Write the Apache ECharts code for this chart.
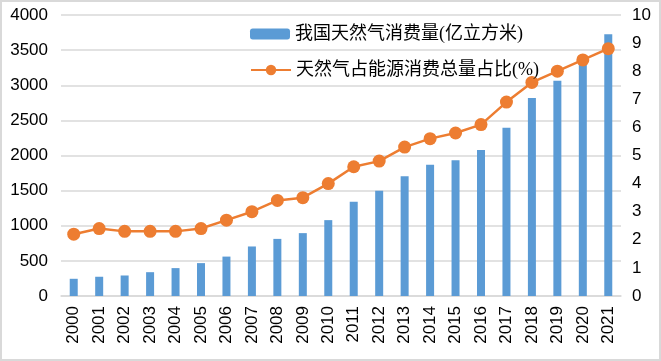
<!DOCTYPE html>
<html><head><meta charset="utf-8">
<script src="https://cdn.jsdelivr.net/npm/echarts@6/dist/echarts.min.js"></script>
<style>html,body{margin:0;padding:0;background:#fff}#c{width:661px;height:361px}</style>
</head><body><div id="c"></div>
<script>
var years = ['2000','2001','2002','2003','2004','2005','2006','2007','2008','2009','2010','2011','2012','2013','2014','2015','2016','2017','2018','2019','2020','2021'];
var gasConsumption = [245,274,292,339,397,468,561,705,813,895,1080,1341,1497,1705,1868,1932,2078,2394,2817,3064,3340,3726];
var gasShare = [2.2,2.4,2.3,2.3,2.3,2.4,2.7,3.0,3.4,3.5,4.0,4.6,4.8,5.3,5.6,5.8,6.1,6.9,7.6,8.0,8.4,8.8];
var barName = '我国天然气消费量(亿立方米)';
var lineName = '天然气占能源消费总量占比(%)';

var chart = echarts.init(document.getElementById('c'), null, {renderer:'canvas'});
var labelFont = {color:'#000', fontSize:17, fontFamily:'"Liberation Sans", Arial, sans-serif'};
var legendText = {color:'#000', fontSize:18, lineHeight:20, fontFamily:'"Liberation Serif", "Noto Sans CJK SC", serif'};
chart.setOption({
  animation:false,
  graphic:[{type:'rect', shape:{x:1,y:1,width:659,height:359}, style:{fill:'none', stroke:'#d9d9d9', lineWidth:2}, silent:true}],
  grid:{left:61, right:40, top:15, bottom:65, containLabel:false},
  legend:[
    {data:[barName], left:245, top:19, itemWidth:40, itemHeight:11, textStyle:legendText, selectedMode:false},
    {data:[lineName], left:245, top:55, itemWidth:40, itemHeight:13, textStyle:legendText, selectedMode:false}
  ],
  xAxis:{type:'category', data:years,
    axisLine:{lineStyle:{color:'#d9d9d9', width:1.5}}, axisTick:{show:false},
    axisLabel:Object.assign({rotate:90, margin:10, interval:0}, labelFont)},
  yAxis:[
    {type:'value', min:0, max:4000, interval:500, axisLine:{show:false}, axisTick:{show:false},
     splitLine:{lineStyle:{color:'#d9d9d9', width:1.5}},
     axisLabel:Object.assign({margin:13, formatter:function(v){return String(v);}}, labelFont)},
    {type:'value', min:0, max:10, interval:1, position:'right', axisLine:{show:false}, axisTick:{show:false},
     splitLine:{show:false}, axisLabel:Object.assign({margin:11}, labelFont)}
  ],
  series:[
    {name:barName, type:'bar', data:gasConsumption, barWidth:8, itemStyle:{color:'#5b9bd5'}, yAxisIndex:0},
    {name:lineName, type:'line', data:gasShare, yAxisIndex:1, symbol:'circle', symbolSize:13,
     lineStyle:{color:'#ed7d31', width:2.5}, itemStyle:{color:'#ed7d31'}}
  ]
});
</script></body></html>
